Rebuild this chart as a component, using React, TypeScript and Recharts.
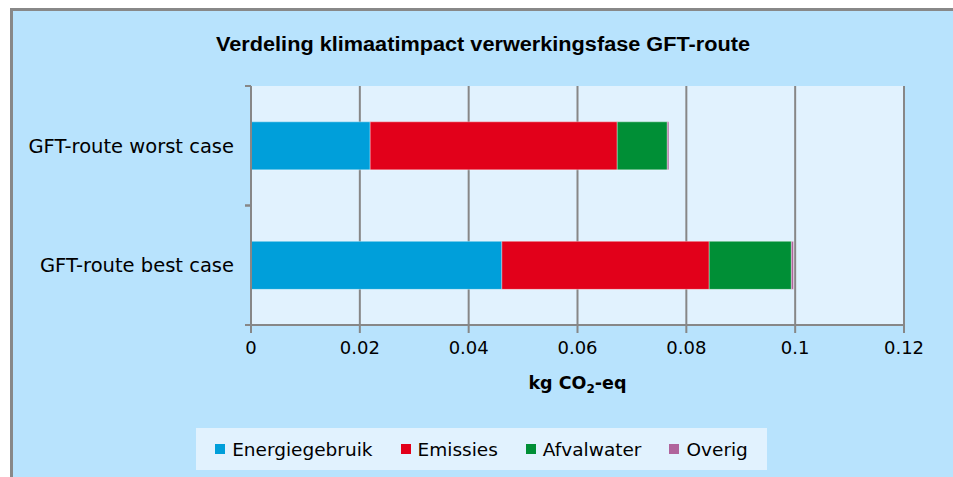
import React from "react";
import {
  BarChart,
  Bar,
  XAxis,
  YAxis,
  CartesianGrid,
  Label,
} from "recharts";

const categories = ["GFT-route worst case", "GFT-route best case"];
const energiegebruik = [0.0219, 0.0461];
const emissies = [0.0454, 0.0381];
const afvalwater = [0.0092, 0.0151];
const overig = [0.0003, 0.0004];
const xTicks = [0, 0.02, 0.04, 0.06, 0.08, 0.1, 0.12];

const SERIES = [
  { key: "energiegebruik", name: "Energiegebruik", color: "#009fda" },
  { key: "emissies", name: "Emissies", color: "#e2001a" },
  { key: "afvalwater", name: "Afvalwater", color: "#008f36" },
  { key: "overig", name: "Overig", color: "#b0649c" },
];

const data = categories.map((c, i) => ({
  category: c,
  energiegebruik: energiegebruik[i],
  emissies: emissies[i],
  afvalwater: afvalwater[i],
  overig: overig[i],
}));

const FONT = "'DejaVu Sans', Tahoma, sans-serif";
const GRID = "#878787";

// category label at band centre, tick marks on the band edges (Excel style)
function CategoryTick(props: any) {
  const { x, y, payload } = props;
  const half = payload.offset ?? 0;
  return (
    <g>
      <line x1={x + 2} x2={x + 8} y1={y - half} y2={y - half} stroke={GRID} strokeWidth={2} />
      <line x1={x + 2} x2={x + 8} y1={y + half} y2={y + half} stroke={GRID} strokeWidth={2} />
      <text x={x - 9} y={y} dy="0.35em" textAnchor="end" fontSize={19.5} fontFamily={FONT} fill="#000">
        {payload.value}
      </text>
    </g>
  );
}

function ChartLegend() {
  return (
    <div
      style={{
        position: "absolute",
        left: 196,
        top: 428,
        width: 571,
        height: 42,
        background: "#e1f2fe",
        display: "flex",
        alignItems: "center",
        justifyContent: "center",
        gap: 28,
        fontFamily: FONT,
        fontSize: 18.5,
        color: "#000",
      }}
    >
      {SERIES.map((s) => (
        <div key={s.key} style={{ display: "flex", alignItems: "center", gap: 7 }}>
          <span style={{ width: 10, height: 10, background: s.color, display: "inline-block" }} />
          <span>{s.name}</span>
        </div>
      ))}
    </div>
  );
}

export default function App() {
  return (
    <div style={{ position: "absolute", left: 0, top: 0, width: 953, height: 477, background: "#fff", overflow: "hidden" }}>
      <div
        style={{
          position: "absolute",
          left: 10,
          top: 8,
          width: 960,
          height: 480,
          background: "#b8e3fd",
          borderTop: "3px solid #888",
          borderLeft: "3px solid #888",
        }}
      />
      <svg style={{ position: "absolute", left: 0, top: 0 }} width={953} height={80}>
        <text
          x={483}
          y={51}
          textAnchor="middle"
          fontFamily="'Liberation Sans Narrow', 'Liberation Sans', Arial, sans-serif"
          fontWeight="bold"
          fontSize={20}
          textLength={534}
          lengthAdjust="spacingAndGlyphs"
          fill="#000"
        >
          Verdeling klimaatimpact verwerkingsfase GFT-route
        </text>
      </svg>
      <div style={{ position: "absolute", left: 0, top: 0 }}>
        <BarChart
          width={953}
          height={477}
          data={data}
          layout="vertical"
          barCategoryGap="30%"
          margin={{ top: 86, right: 49, bottom: 112, left: 0 }}
        >
          <CartesianGrid horizontal={false} stroke={GRID} strokeWidth={2} fill="#e1f2fe" />
          <XAxis
            type="number"
            domain={[0, 0.12]}
            ticks={xTicks}
            interval={0}
            height={40}
            axisLine={{ stroke: GRID, strokeWidth: 2 }}
            tickLine={{ stroke: GRID, strokeWidth: 2 }}
            tickSize={8}
            tickMargin={8}
            tick={{ fontSize: 18, fontFamily: FONT, fill: "#000" }}
          >
            <Label
              content={(p: any) => {
                const vb = p.viewBox;
                const cx = vb.x + vb.width / 2;
                return (
                  <text x={cx} y={vb.y + 64} textAnchor="middle" fontSize={17.5} fontWeight="bold" fontFamily={FONT} fill="#000">
                    kg CO<tspan fontSize={12} dy={4}>2</tspan>
                    <tspan dy={-4}>-eq</tspan>
                  </text>
                );
              }}
            />
          </XAxis>
          <YAxis
            type="category"
            dataKey="category"
            width={251}
            axisLine={{ stroke: GRID, strokeWidth: 2 }}
            tickLine={false}
            tick={<CategoryTick />}
          />
          {SERIES.map((s) => (
            <Bar
              key={s.key}
              dataKey={s.key}
              name={s.name}
              stackId="a"
              fill={s.color}
              stroke="#ffffff"
              strokeOpacity={0.35}
              strokeWidth={1}
              isAnimationActive={false}
            />
          ))}
        </BarChart>
      </div>
      <ChartLegend />
    </div>
  );
}
